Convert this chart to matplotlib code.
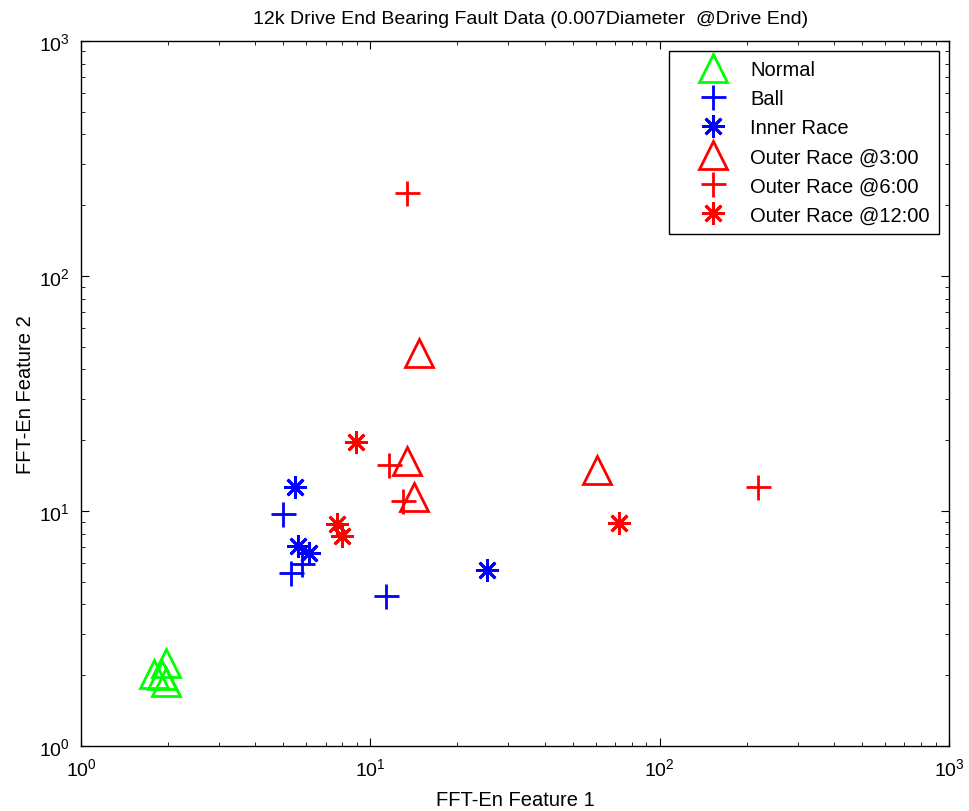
import matplotlib
matplotlib.use("Agg")
import matplotlib.pyplot as plt
import numpy as np

plt.rcParams["font.family"] = ["Liberation Sans", "DejaVu Sans"]
plt.rcParams["mathtext.fontset"] = "custom"
plt.rcParams["mathtext.rm"] = "Liberation Sans"
plt.rcParams["mathtext.it"] = "Liberation Sans"

# feature values
normal_x = [1.79, 1.97, 1.97, 1.90]
normal_y = [2.02, 2.25, 1.87, 2.00]

ball_x = [4.98, 5.31, 5.81, 11.3]
ball_y = [9.75, 5.47, 5.93, 4.34]

inner_x = [5.49, 5.64, 6.15, 25.3]
inner_y = [12.6, 7.10, 6.61, 5.61]

outer3_x = [13.4, 14.2, 14.7, 60.6]
outer3_y = [16.3, 11.5, 47.1, 14.9]

outer6_x = [11.6, 13.0, 13.4, 218]
outer6_y = [15.7, 11.0, 225, 12.6]

outer12_x = [8.92, 7.65, 7.96, 72.6]
outer12_y = [19.7, 8.78, 7.83, 8.87]

labels = ["Normal", "Ball", "Inner Race", "Outer Race @3:00",
          "Outer Race @6:00", "Outer Race @12:00"]

fig = plt.figure(figsize=(9.69, 8.12), dpi=100)
ax = fig.add_axes([0.0836, 0.080, 0.8958, 0.8686])

star = (8, 2, 0)
kw = dict(linestyle="none", markerfacecolor="none", markeredgewidth=2.0)
ax.plot(normal_x, normal_y, "^", color="#00ff00", markersize=20, label=labels[0], **kw)
ax.plot(ball_x, ball_y, "+", color="#0000ff", markersize=18, label=labels[1], **kw)
ax.plot(inner_x, inner_y, marker=star, color="#0000ff", markersize=16, label=labels[2], **kw)
ax.plot(outer3_x, outer3_y, "^", color="#ff0000", markersize=20, label=labels[3], **kw)
ax.plot(outer6_x, outer6_y, "+", color="#ff0000", markersize=18, label=labels[4], **kw)
ax.plot(outer12_x, outer12_y, marker=star, color="#ff0000", markersize=16, label=labels[5], **kw)

ax.set_xscale("log")
ax.set_yscale("log")
ax.set_xlim(1, 1000)
ax.set_ylim(1, 1000)

ax.tick_params(which="both", direction="in", top=True, right=True, labelsize=14, pad=8)
ax.tick_params(which="major", length=6)
ax.tick_params(which="minor", length=3)
for s in ax.spines.values():
    s.set_linewidth(1.0)

ax.set_title("12k Drive End Bearing Fault Data (0.007Diameter  @Drive End)",
             fontsize=14, x=0.518, pad=13)
ax.set_xlabel("FFT-En Feature 1", fontsize=14.5, labelpad=8)
ax.set_ylabel("FFT-En Feature 2", fontsize=14.5, labelpad=3)

leg = ax.legend(loc="upper right", bbox_to_anchor=(0.9885, 0.9854), numpoints=1,
                fancybox=False, edgecolor="black", fontsize=14.5, framealpha=1,
                borderpad=0.45, labelspacing=0.5, handlelength=3.5, handletextpad=0.1,
                borderaxespad=0)
leg.get_frame().set_linewidth(1.0)

fig.savefig("out.png", dpi=100)
